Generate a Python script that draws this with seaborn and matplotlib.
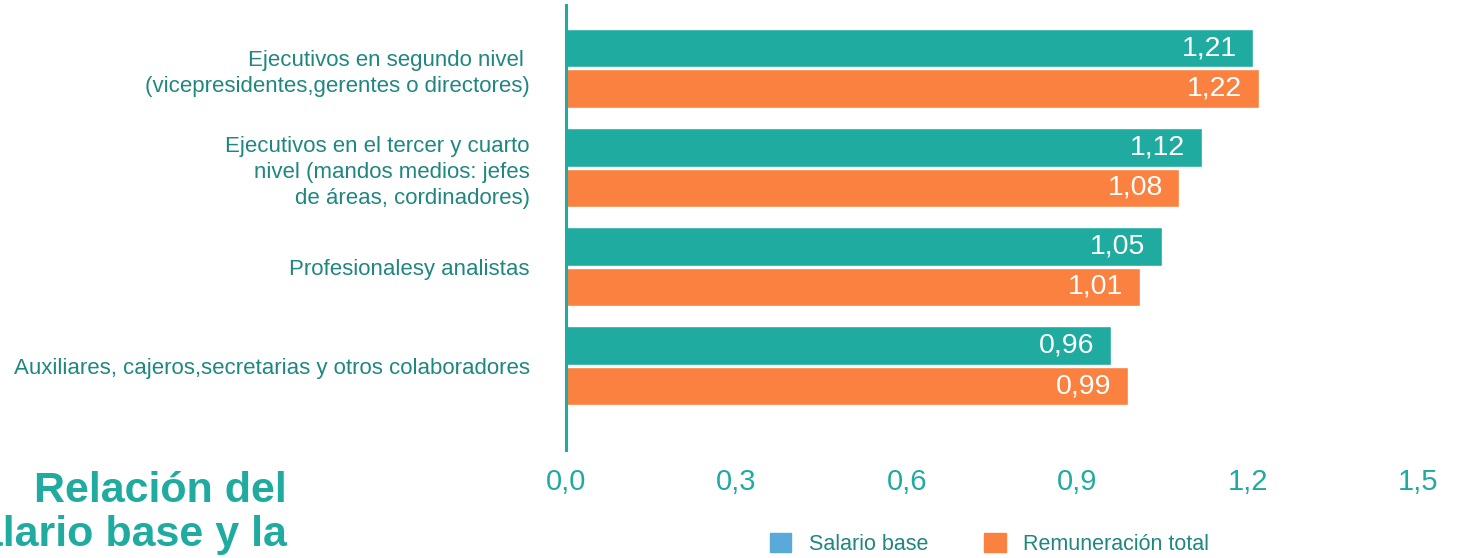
import pandas as pd
import seaborn as sns
import matplotlib.pyplot as plt
from matplotlib.patches import Patch

# data
categorias = [
    "Ejecutivos en segundo nivel \n(vicepresidentes,gerentes o directores)",
    "Ejecutivos en el tercer y cuarto\nnivel (mandos medios: jefes\nde áreas, cordinadores)",
    "Profesionalesy analistas",
    "Auxiliares, cajeros,secretarias y otros colaboradores",
]
salario_base = [1.21, 1.12, 1.05, 0.96]
remuneracion_total = [1.22, 1.08, 1.01, 0.99]
series = ["Salario base", "Remuneración total"]
ticks = [0.0, 0.3, 0.6, 0.9, 1.2, 1.5]

teal = "#20ABA0"
orange = "#FB8140"
blue = "#5AAAD9"
dark_teal = "#1F8780"

df = pd.DataFrame({
    "cat": categorias * 2,
    "valor": salario_base + remuneracion_total,
    "serie": [series[0]] * 4 + [series[1]] * 4,
})

sns.set_style("white")
plt.rcParams["font.family"] = ["Liberation Sans", "DejaVu Sans"]

fig = plt.figure(figsize=(14.57, 5.58), dpi=100)
ax = fig.add_axes([0.3885, 0.1935, 0.5847, 0.7975])

sns.barplot(data=df, y="cat", x="valor", hue="serie", orient="h", saturation=1,
            palette=[teal, orange], width=0.82, gap=0.05, legend=False, ax=ax)

# value labels inside bars
for cont in ax.containers:
    for p in cont:
        v = p.get_width()
        ax.annotate(f"{v:.2f}".replace(".", ","), (v, p.get_y() + p.get_height() / 2),
                    xytext=(-12, 0), textcoords="offset points", ha="right", va="center",
                    color="white", fontsize=20.5)

ax.set_xlim(0, 1.5)
ax.set_ylim(3.85, -0.64)
ax.set_xticks(ticks)
ax.set_xticklabels([f"{t:.1f}".replace(".", ",") for t in ticks])
ax.tick_params(axis="x", length=0, pad=13, labelsize=21, labelcolor=teal)
ax.tick_params(axis="y", length=0, pad=26, labelsize=16, labelcolor=dark_teal)
for lab in ax.get_yticklabels():
    lab.set_linespacing(1.3)
ax.set_xlabel("")
ax.set_ylabel("")
for s in ["top", "right", "bottom"]:
    ax.spines[s].set_visible(False)
ax.spines["left"].set_color(teal)
ax.spines["left"].set_linewidth(2.2)

# legend (salario base square is blue in the original)
handles = [Patch(color=blue, label=series[0]), Patch(color=orange, label=series[1])]
fig.legend(handles=handles, loc="upper center", bbox_to_anchor=(0.679, 0.08), ncol=2,
           frameon=False, fontsize=15.5, labelcolor=dark_teal, handlelength=1.0,
           handleheight=1.0, handletextpad=0.8, columnspacing=2.6)

fig.text(287 / 1457, 1 - 546 / 558, "Relación del\nsalario base y la", ha="right", va="baseline",
         fontsize=31, fontweight="bold", color=teal, linespacing=1.12,
         multialignment="right")

fig.savefig("out.png", dpi=100)
